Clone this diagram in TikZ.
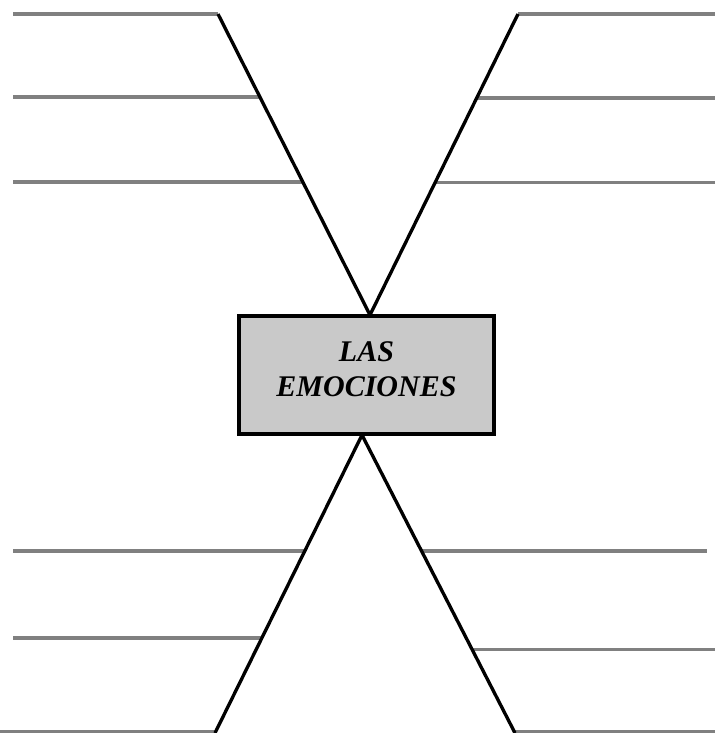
\documentclass[tikz,border=0pt]{standalone}
\usepackage{fontspec}
\setmainfont{Liberation Serif}
\usetikzlibrary{calc}

\tikzset{every picture/.style={line width=0.75pt}}
\tikzset{
	rule/.style={draw={rgb, 255:red, 128; green, 128; blue, 128}, line width=2.4pt},
	spine/.style={draw=black, line width=2.5pt, line join=round},
	titlebox/.style={draw=black, line width=3pt, fill={rgb, 255:red, 201; green, 201; blue, 201}, minimum width=191pt, minimum height=88pt, inner sep=0pt},
	titletext/.style={inner sep=0pt, align=center, font=\fontsize{22.5}{26.5}\selectfont\bfseries\itshape}
}

\begin{document}
\begin{tikzpicture}[x=0.75pt,y=0.75pt,yscale=-1,xscale=1]
	\useasboundingbox (0,0) rectangle (715,733);

	%Margins
	\coordinate (lm) at (13,0);
	\coordinate (rm) at (715,0);
	%Apexes and feet of the spines
	\coordinate (ta) at (370,315);
	\coordinate (ba) at (362,435);
	\coordinate (tl) at (218,14);
	\coordinate (tr) at (518,14);
	\coordinate (bl) at (215,733);
	\coordinate (br) at (515,733);

	%Points on the spines
	\coordinate (tl2) at ($(tl)!0.276!(ta)$);
	\coordinate (tl3) at ($(tl)!0.558!(ta)$);
	\coordinate (tr2) at ($(tr)!0.279!(ta)$);
	\coordinate (tr3) at ($(tr)!0.561!(ta)$);
	\coordinate (bl1) at ($(ba)!0.389!(bl)$);
	\coordinate (bl2) at ($(ba)!0.681!(bl)$);
	\coordinate (br1) at ($(ba)!0.389!(br)$);
	\coordinate (br2) at ($(ba)!0.721!(br)$);
	\coordinate (bl3) at (215,732);
	\coordinate (br3) at (515,732);

	%Writing lines, upper left
	\draw[rule] (tl) -- (tl -| lm);
	\draw[rule] (tl2) -- (tl2 -| lm);
	\draw[rule] (tl3) -- (tl3 -| lm);
	%Writing lines, upper right
	\draw[rule] (tr) -- (tr -| rm);
	\draw[rule] (tr2) -- (tr2 -| rm);
	\draw[rule] (tr3) -- (tr3 -| rm);
	%Writing lines, lower left
	\draw[rule] (bl1) -- (bl1 -| lm);
	\draw[rule] (bl2) -- (bl2 -| lm);
	\draw[rule] (bl3) -- (0,732);
	%Writing lines, lower right
	\draw[rule] (br1) -- (br1 -| 707,0);
	\draw[rule] (br2) -- (br2 -| rm);
	\draw[rule] (br3) -- (br3 -| rm);

	%Spines
	\draw[spine] (tl) -- (ta) -- (tr);
	\draw[spine] (bl) -- (ba) -- (br);

	%Title
	\node[titlebox] (emo) at (366.5,375) {};
	\node[titletext] (emotext) at ($(emo.center)+(0,-6)$) {LAS\\EMOCIONES};

\end{tikzpicture}
\end{document}
